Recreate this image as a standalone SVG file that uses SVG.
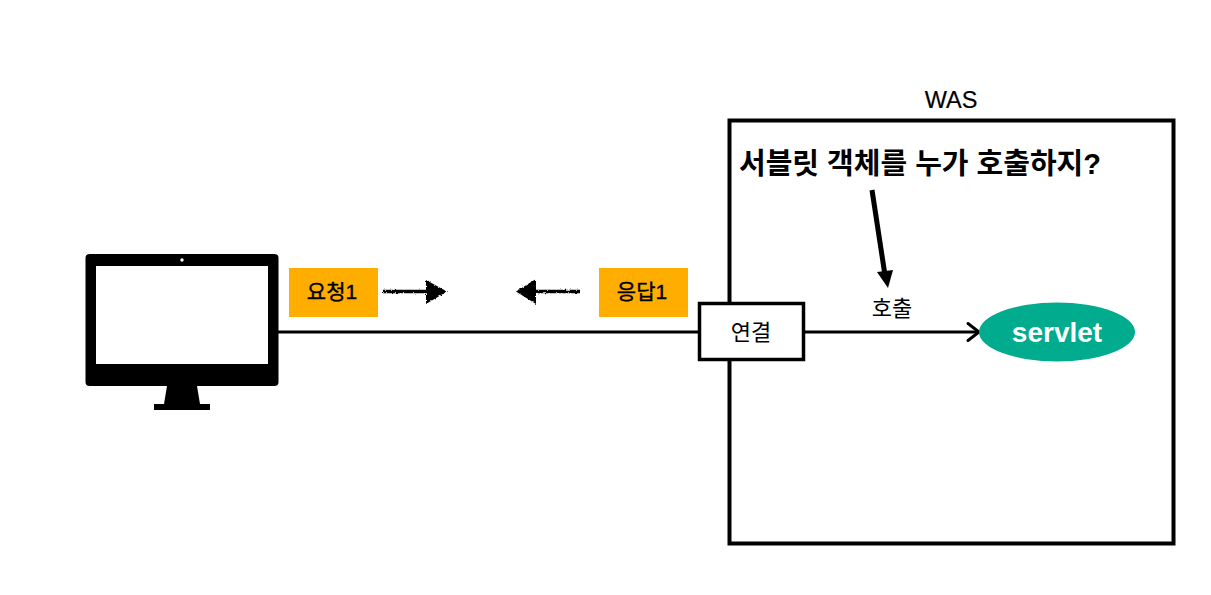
<svg xmlns="http://www.w3.org/2000/svg" width="1211" height="595" viewBox="0 0 1211 595">
<defs>
<filter id="rough" x="-10%" y="-50%" width="120%" height="200%"><feTurbulence type="fractalNoise" baseFrequency="0.6" numOctaves="2" seed="3"/><feDisplacementMap in="SourceGraphic" scale="3" xChannelSelector="R" yChannelSelector="G"/></filter>
</defs>
<style>
text{font-family:"Liberation Sans","Noto Sans CJK KR",sans-serif;fill:#000;text-anchor:middle}
.tag{fill:#FFAE00}
.t{font-size:21px;stroke:#000;stroke-width:.4}
.n{font-size:22px}
.line{fill:none;stroke:#000;stroke-width:3}
.rough{fill:none;stroke:#000;stroke-width:3.500}
</style>
<rect width="1211" height="595" fill="#fff"/>
<g id="was"><rect x="729.500" y="120.500" width="444" height="423" fill="#fff" stroke="#000" stroke-width="4"/><text x="951" y="108" style="font-size:23.500px;stroke:#000;stroke-width:.2">WAS</text></g>
<g id="connectors">
<path class="line" d="M278 332H698"/>
<path class="line" d="M805 332H978"/>
<path class="line" d="M968 323.500L979 332L968 340.500" stroke-linecap="round"/>
<path d="M872 190L884.500 272" fill="none" stroke="#000" stroke-width="5"/>
<path d="M877 272L893 270L888 288Z" fill="#000"/>
</g>
<g id="client">
<rect x="85.500" y="254" width="193" height="132" rx="4" fill="#000"/>
<rect x="96" y="266" width="172" height="98" fill="#fff"/>
<circle cx="182" cy="260" r="1.700" fill="#fff"/>
<path d="M167 386H197L200 404H164Z" fill="#000"/>
<rect x="154" y="404" width="56" height="6" fill="#000"/>
</g>
<g id="req"><rect class="tag" x="289" y="268" width="89" height="49"/><text x="332" y="299" class="t">요청1</text></g>
<g id="req-arrow" filter="url(#rough)"><path class="rough" d="M383 291.500H430"/><path d="M426 280L447 291.500L426 304Z" fill="#000"/></g>
<g id="res-arrow" filter="url(#rough)"><path class="rough" d="M580 291.500H532"/><path d="M536 279L516 291.500L536 304Z" fill="#000"/></g>
<g id="res"><rect class="tag" x="599" y="268" width="89" height="49"/><text x="642" y="299" class="t">응답1</text></g>
<g id="conn"><rect x="699.500" y="303.500" width="104" height="56" fill="#fff" stroke="#000" stroke-width="3.500"/><text x="751" y="340" class="n">연결</text></g>
<g id="servlet"><ellipse cx="1057" cy="332" rx="78" ry="29.500" fill="#00AB8E"/><text x="1057" y="342" style="font-size:28px;font-weight:bold;fill:#fff">servlet</text></g>
<text x="892" y="316" class="n">호출</text>
<text x="920" y="174" style="font-size:29px;font-weight:bold">서블릿 객체를 누가 호출하지?</text>
</svg>
